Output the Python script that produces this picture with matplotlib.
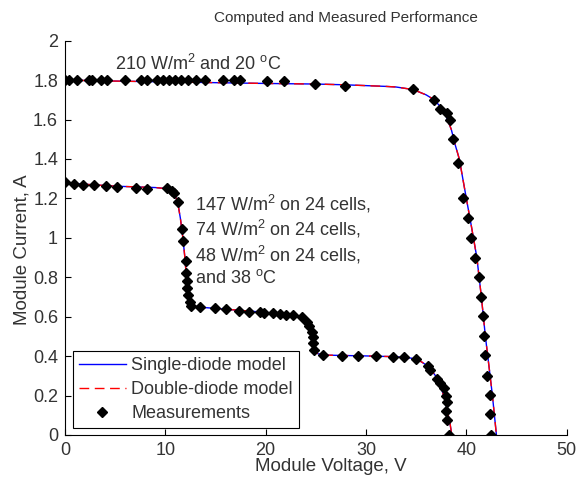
"""Recreate the 'Computed and Measured Performance' I-V chart.

Two module I-V curves: one uniformly lit (210 W/m2, 20 C) and one with
three partially shaded 24-cell strings. Each curve has a single-diode model,
a double-diode model and the measured points.

Run:
    python3 plot.py   -> out.png
"""

import matplotlib
matplotlib.use("Agg")
import matplotlib.pyplot as plt

matplotlib.rcParams["font.family"] = ["Liberation Sans", "DejaVu Sans"]
matplotlib.rcParams["mathtext.fontset"] = "custom"
matplotlib.rcParams["mathtext.rm"] = "Liberation Sans"
matplotlib.rcParams["mathtext.it"] = "Liberation Sans"

# --- uniform irradiance curve (210 W/m2, 20 C) -----------------------------
MODEL1_V = [0, 5, 10, 15, 20, 25, 28, 30, 32, 33, 34.7, 36, 36.8, 37.5,
            38, 38.5, 38.9, 39.3, 40.0, 40.5, 41.05, 41.5, 41.9, 42.3,
            42.6, 43.0]
MODEL1_I = [1.800, 1.795, 1.791, 1.787, 1.783, 1.780, 1.776, 1.772, 1.768,
            1.765, 1.752, 1.725, 1.700, 1.660, 1.615, 1.550, 1.470, 1.400,
            1.200, 1.060, 0.900, 0.700, 0.500, 0.330, 0.200, 0.000]

MEAS1_V = [0, 0.43, 1.16, 2.43, 2.66, 3.56, 4.16, 6.0, 7.6, 8.14, 9.14,
           9.8, 10.4, 10.97, 11.6, 12.3, 13.1, 13.96, 15.7, 16.8, 17.45,
           20.1, 21.8, 24.9, 27.9, 34.7, 36.8, 37.4, 38.05, 38.4, 38.7,
           39.2, 39.7, 40.2, 40.5, 40.9, 41.3, 41.47, 41.67, 41.8, 41.9,
           42.05, 42.4, 42.4, 42.5]
MEAS1_I = [1.800, 1.800, 1.800, 1.800, 1.800, 1.800, 1.800, 1.800, 1.800,
           1.800, 1.800, 1.800, 1.800, 1.800, 1.800, 1.800, 1.800, 1.800,
           1.800, 1.800, 1.800, 1.795, 1.795, 1.780, 1.770, 1.753, 1.700,
           1.652, 1.631, 1.600, 1.500, 1.380, 1.203, 1.102, 0.997, 0.896,
           0.799, 0.701, 0.603, 0.502, 0.406, 0.301, 0.203, 0.105, 0.000]

# --- partially shaded curve (147/74/48 W/m2 on 24 cells, 38 C) -------------
MODEL2_V = [0, 5, 9, 10, 10.7, 11.2, 11.5, 11.75, 11.95, 12.1, 12.25, 12.4,
            12.7, 13.5, 16, 20, 22, 23, 23.6, 24.1, 24.4, 24.6, 24.75,
            24.9, 25.2, 26, 30, 33, 34.5, 35.5, 36.3, 37, 37.5, 37.9, 38.2,
            38.4, 38.55]
MODEL2_I = [1.278, 1.262, 1.255, 1.250, 1.235, 1.190, 1.100, 1.000, 0.900,
            0.800, 0.720, 0.680, 0.655, 0.648, 0.638, 0.622, 0.612, 0.605,
            0.595, 0.575, 0.540, 0.500, 0.460, 0.430, 0.412, 0.405, 0.401,
            0.397, 0.390, 0.372, 0.345, 0.295, 0.240, 0.170, 0.100, 0.050,
            0.000]

MEAS2_V = [0, 0.9, 1.83, 2.89, 4.05, 5.2, 7.08, 8.2, 10.14, 10.64, 10.87,
           11.3, 11.63, 11.8, 12.06, 12.08, 12.15, 12.2, 12.3, 12.45, 12.6,
           13.5, 15.0, 16.05, 17.38, 18.35, 19.4, 19.87, 20.76, 21.43,
           22.03, 22.76, 23.66, 24.16, 24.36, 24.6, 24.7, 24.7, 24.82,
           25.75, 27.58, 29.24, 30.97, 32.7, 33.8, 35.0, 36.2, 36.4, 37.1,
           37.4, 37.8, 38.0, 38.1, 38.0, 38.1, 38.3]
MEAS2_I = [1.285, 1.273, 1.268, 1.268, 1.263, 1.256, 1.251, 1.247, 1.254,
           1.239, 1.226, 1.183, 1.043, 0.986, 0.880, 0.820, 0.780, 0.745,
           0.710, 0.675, 0.655, 0.651, 0.643, 0.638, 0.629, 0.622, 0.622,
           0.620, 0.617, 0.612, 0.609, 0.609, 0.600, 0.575, 0.553, 0.524,
           0.499, 0.465, 0.431, 0.406, 0.401, 0.401, 0.401, 0.397, 0.397,
           0.385, 0.350, 0.330, 0.284, 0.265, 0.237, 0.198, 0.166, 0.122,
           0.076, 0.000]

X_TICKS = [0, 10, 20, 30, 40, 50]
Y_TICKS = [0, 0.2, 0.4, 0.6, 0.8, 1, 1.2, 1.4, 1.6, 1.8, 2]
Y_TICK_LABELS = ["0", "0.2", "0.4", "0.6", "0.8", "1", "1.2", "1.4", "1.6",
                 "1.8", "2"]

LABEL_TOP = "210 W/m$^2$ and 20 $^{\\rm o}$C"
LABEL_SHADED = ("147 W/m$^2$ on 24 cells,\n"
                "74 W/m$^2$ on 24 cells,\n"
                "48 W/m$^2$ on 24 cells,\n"
                "and 38 $^{\\rm o}$C")

FS = 13
TEXT_COLOR = "#333333"


def main() -> None:
    fig = plt.figure(figsize=(5.76, 4.83), dpi=100)
    ax = fig.add_axes([0.1128, 0.0994, 0.8710, 0.8164])

    for mv, mi, meas_v, meas_i, first in (
            (MODEL1_V, MODEL1_I, MEAS1_V, MEAS1_I, True),
            (MODEL2_V, MODEL2_I, MEAS2_V, MEAS2_I, False)):
        ax.plot(mv, mi, color="#0000ff", linewidth=1.0,
                label="Single-diode model" if first else None)
        ax.plot(mv, mi, color="#ff0000", linewidth=1.0, dashes=(7, 4),
                label="Double-diode model" if first else None)
        ax.plot(meas_v, meas_i, linestyle="none", marker="D",
                markersize=5.0, color="black",
                label="Measurements" if first else None)

    ax.set_xlim(0, 50)
    ax.set_ylim(0, 2)
    ax.set_xticks(X_TICKS)
    ax.set_yticks(Y_TICKS)
    ax.set_yticklabels(Y_TICK_LABELS)
    ax.tick_params(direction="in", length=4, width=0.8, labelsize=FS,
                   colors="black", labelcolor=TEXT_COLOR, pad=5)
    for side in ("top", "right"):
        ax.spines[side].set_visible(False)
    for side in ("left", "bottom"):
        ax.spines[side].set_linewidth(0.8)

    ax.set_xlabel("Module Voltage, V", fontsize=FS + 0.5, color=TEXT_COLOR)
    ax.xaxis.set_label_coords(0.53, -0.058)
    ax.set_ylabel("Module Current, A", fontsize=FS + 0.5, color=TEXT_COLOR)
    ax.yaxis.set_label_coords(-0.068, 0.47)
    fig.text(0.6, 0.963, "Computed and Measured Performance", fontsize=11,
             color=TEXT_COLOR, ha="center", va="center")

    ax.text(5, 1.85, LABEL_TOP, fontsize=FS, color=TEXT_COLOR,
            ha="left", va="baseline")
    ax.text(13, 0.99, LABEL_SHADED, fontsize=FS, color=TEXT_COLOR,
            ha="left", va="center", linespacing=1.2)

    leg = ax.legend(loc="lower left", bbox_to_anchor=(0.0153, 0.017),
                    fontsize=FS, frameon=True, fancybox=False,
                    edgecolor="black", framealpha=1, borderpad=0.35,
                    handlelength=2.6, handletextpad=0.3, labelspacing=0.38,
                    borderaxespad=0, numpoints=1)
    leg.get_frame().set_linewidth(0.8)
    for t in leg.get_texts():
        t.set_color(TEXT_COLOR)

    fig.savefig("out.png", dpi=100, facecolor="white")
    plt.close(fig)


if __name__ == "__main__":
    main()
